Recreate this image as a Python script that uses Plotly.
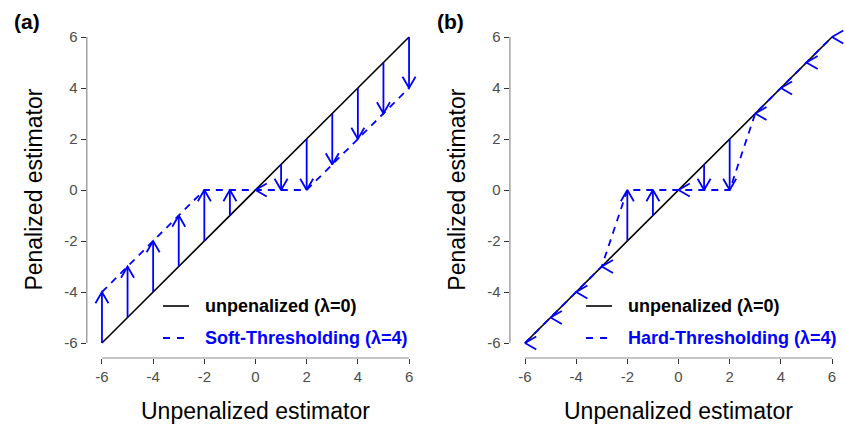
import plotly.graph_objects as go

# Unpenalized estimates and the thresholded estimates (lambda = 4, cut at |x| <= 2)
x_vals = [-6, -5, -4, -3, -2, -1, 0, 1, 2, 3, 4, 5, 6]
soft_vals = [-4, -3, -2, -1, 0, 0, 0, 0, 0, 1, 2, 3, 4]
hard_vals = [-6, -5, -4, -3, 0, 0, 0, 0, 0, 3, 4, 5, 6]
tick_vals = [-6, -4, -2, 0, 2, 4, 6]
tick_text = ["-6", "-4", "-2", "0", "2", "4", "6"]

W, H = 845, 425
BLUE = "#0000FF"
FONT = "Liberation Sans, Arial, sans-serif"

# pixel geometry of both panels
PX_PER_UNIT = 307 / 12.0
PY_PER_UNIT = 306 / 12.0
panel_a = dict(left=86.6, right=424.4)
panel_b = dict(left=509.65, right=845.0)
top_px, bot_px = 21.7, 358.3
x_rng_a = [-6.6, 6.6]
x_rng_b = [-6.6, 6.0 + (panel_b["right"] - 832.0) / PX_PER_UNIT]
y_rng = [-6.6, 6.6]

HEAD_LEN = 13.0  # arrowhead barb length, px
HEAD_SIN, HEAD_COS = 0.5, 0.866


def arrow_traces(xs, ys_from, ys_to):
    shaft_x, shaft_y, head_x, head_y = [], [], [], []
    for x, y0, y1 in zip(xs, ys_from, ys_to):
        if y1 != y0:
            shaft_x += [x, x, None]
            shaft_y += [y0, y1, None]
            d = 1 if y1 > y0 else -1
            bx = HEAD_LEN * HEAD_SIN / PX_PER_UNIT
            by = HEAD_LEN * HEAD_COS / PY_PER_UNIT
            head_x += [x - bx, x, x + bx, None]
            head_y += [y1 - d * by, y1, y1 - d * by, None]
        else:
            # zero-length arrow: only the head is drawn, opening to the right
            bx = HEAD_LEN * HEAD_COS / PX_PER_UNIT
            by = HEAD_LEN * HEAD_SIN / PY_PER_UNIT
            head_x += [x + bx, x, x + bx, None]
            head_y += [y1 + by, y1, y1 - by, None]
    return shaft_x, shaft_y, head_x, head_y


fig = go.Figure()


def add_panel(xa, ya, est, label, legend_text, panel):
    fig.add_trace(go.Scatter(x=[x_vals[0], x_vals[-1]], y=[x_vals[0], x_vals[-1]],
                             mode="lines", line=dict(color="black", width=1.6),
                             xaxis=xa, yaxis=ya, showlegend=False, hoverinfo="skip"))
    fig.add_trace(go.Scatter(x=x_vals, y=est, mode="lines",
                             line=dict(color=BLUE, width=1.8, dash="7px,6px"),
                             xaxis=xa, yaxis=ya, showlegend=False, hoverinfo="skip"))
    sx, sy, hx, hy = arrow_traces(x_vals, x_vals, est)
    fig.add_trace(go.Scatter(x=sx, y=sy, mode="lines", line=dict(color=BLUE, width=1.8),
                             xaxis=xa, yaxis=ya, showlegend=False, hoverinfo="skip"))
    fig.add_trace(go.Scatter(x=hx, y=hy, mode="lines", line=dict(color=BLUE, width=1.8),
                             xaxis=xa, yaxis=ya, showlegend=False, hoverinfo="skip"))

    axref_x = "x" if xa == "x" else "x2"
    axref_y = "y" if ya == "y" else "y2"
    # capped axis lines spanning the tick range
    fig.add_shape(type="line", xref=axref_x, yref=axref_y, x0=tick_vals[0], x1=tick_vals[-1],
                  y0=y_rng[0], y1=y_rng[0], line=dict(color="#1a1a1a", width=1.2))
    fig.add_shape(type="line", xref=axref_x, yref=axref_y, x0=x_rng_a[0], x1=x_rng_a[0],
                  y0=tick_vals[0], y1=tick_vals[-1], line=dict(color="#1a1a1a", width=1.2))

    L = panel["left"]
    off = L - panel_a["left"]
    px = lambda p: p / W
    py = lambda p: 1 - p / H
    # legend
    fig.add_shape(type="line", xref="paper", yref="paper", x0=px(163 + off), x1=px(189 + off),
                  y0=py(306), y1=py(306), line=dict(color="black", width=1.6))
    fig.add_shape(type="line", xref="paper", yref="paper", x0=px(163 + off), x1=px(189 + off),
                  y0=py(338), y1=py(338), line=dict(color=BLUE, width=1.8, dash="7px,7px"))
    fig.add_annotation(xref="paper", yref="paper", x=px(203 + off), y=py(306), xanchor="left",
                       yanchor="middle", showarrow=False, text="<b>unpenalized (λ=0)</b>",
                       font=dict(family=FONT, size=18, color="black"))
    fig.add_annotation(xref="paper", yref="paper", x=px(203 + off), y=py(338), xanchor="left",
                       yanchor="middle", showarrow=False, text="<b>" + legend_text + "</b>",
                       font=dict(family=FONT, size=18, color=BLUE))
    # panel tag
    fig.add_annotation(xref="paper", yref="paper", x=px(L - 75), y=py(21), xanchor="left",
                       yanchor="middle", showarrow=False, text="<b>" + label + "</b>",
                       font=dict(family=FONT, size=21, color="black"))
    # axis titles
    fig.add_annotation(xref="paper", yref="paper", x=px(L + 168.5), y=py(411), xanchor="center",
                       yanchor="middle", showarrow=False, text="Unpenalized estimator",
                       font=dict(family=FONT, size=23, color="black"))
    fig.add_annotation(xref="paper", yref="paper", x=px(L - 53), y=py(190), xanchor="center",
                       yanchor="middle", showarrow=False, text="Penalized estimator",
                       textangle=-90, font=dict(family=FONT, size=23, color="black"))


add_panel("x", "y", soft_vals, "(a)", "Soft-Thresholding (λ=4)", panel_a)
add_panel("x2", "y2", hard_vals, "(b)", "Hard-Thresholding (λ=4)", panel_b)

axis_common = dict(tickmode="array", tickvals=tick_vals, ticktext=tick_text,
                   ticks="outside", ticklen=5, tickwidth=1.1, tickcolor="#333333",
                   showgrid=False, zeroline=False, showline=False,
                   tickfont=dict(family=FONT, size=15, color="#4D4D4D"), fixedrange=True)

ydom = [1 - bot_px / H, 1 - top_px / H]
fig.update_layout(
    width=W, height=H, margin=dict(l=0, r=0, t=0, b=0),
    paper_bgcolor="white", plot_bgcolor="white", showlegend=False,
    xaxis=dict(domain=[panel_a["left"] / W, panel_a["right"] / W], range=x_rng_a,
               anchor="y", **axis_common),
    yaxis=dict(domain=ydom, range=y_rng, anchor="x", **axis_common),
    xaxis2=dict(domain=[panel_b["left"] / W, 1.0], range=x_rng_b, anchor="y2", **axis_common),
    yaxis2=dict(domain=ydom, range=y_rng, anchor="x2", **axis_common),
)

fig.write_html("out.html")
